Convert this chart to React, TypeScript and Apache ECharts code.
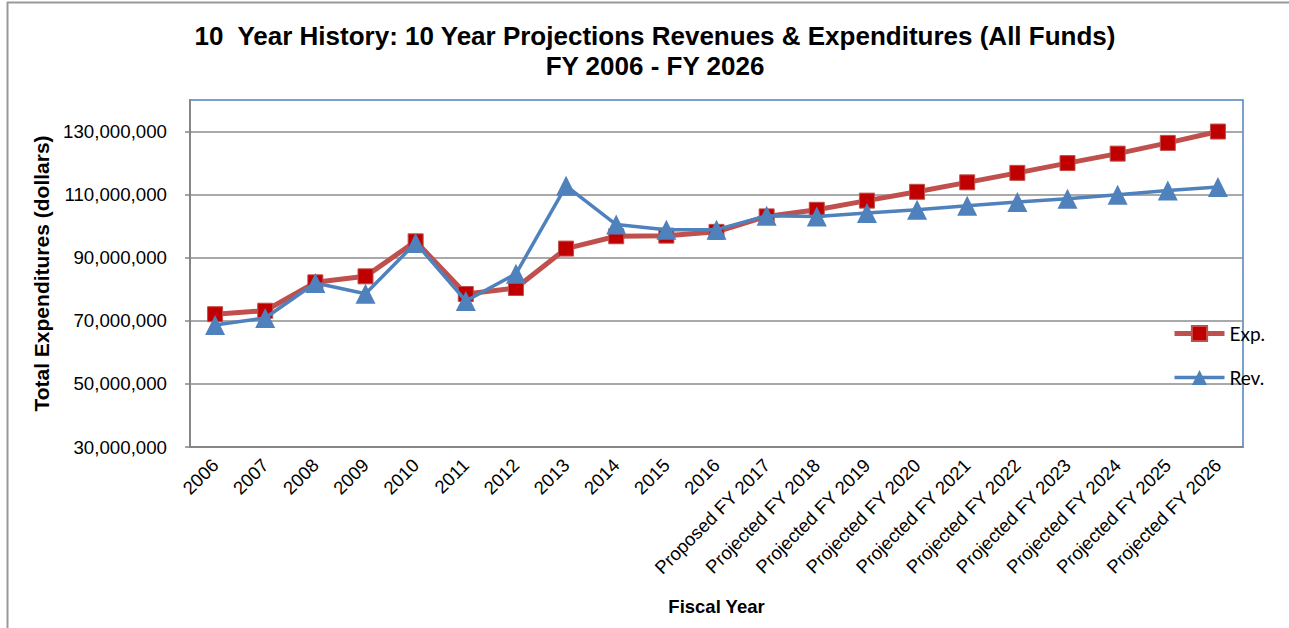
import React, { useEffect, useRef } from "react";
import * as echarts from "echarts";

const categories = [
  "2006", "2007", "2008", "2009", "2010", "2011", "2012", "2013", "2014", "2015", "2016",
  "Proposed FY 2017", "Projected FY 2018", "Projected FY 2019", "Projected FY 2020",
  "Projected FY 2021", "Projected FY 2022", "Projected FY 2023", "Projected FY 2024",
  "Projected FY 2025", "Projected FY 2026",
];

const expenditures = [
  72100000, 73200000, 82200000, 84100000, 95200000, 78500000, 80400000, 92900000,
  96800000, 97000000, 98200000, 103100000, 105200000, 108100000, 110900000,
  113900000, 116900000, 120000000, 123000000, 126400000, 130000000,
];

const revenues = [
  68700000, 70900000, 82000000, 78600000, 94700000, 76300000, 84900000, 112800000,
  100500000, 98900000, 98900000, 103300000, 103100000, 104200000, 105200000,
  106500000, 107700000, 108700000, 110000000, 111300000, 112400000,
];

const titleLines = [
  "10  Year History: 10 Year Projections Revenues & Expenditures (All Funds)",
  "FY 2006 - FY 2026",
];

const FONT = "'Liberation Sans', Arial, sans-serif";

export default function App() {
  const ref = useRef<HTMLDivElement>(null);

  useEffect(() => {
    if (!ref.current) return;
    const chart = echarts.init(ref.current, null, { renderer: "svg" });
    chart.setOption({
      animation: false,
      backgroundColor: "#ffffff",
      title: {
        text: titleLines.join("\n"),
        left: 650,
        textAlign: "center",
        top: 16,
        textStyle: {
          fontFamily: FONT,
          fontWeight: "bold",
          fontSize: 26,
          lineHeight: 30,
          color: "#000",
        },
      },
      legend: {
        orient: "vertical",
        left: 1167,
        top: 319,
        itemWidth: 50,
        itemHeight: 19,
        itemGap: 25,
        textStyle: { fontFamily: "Lato, 'Open Sans', sans-serif", fontSize: 19, color: "#000" },
        data: [
          { name: "Exp.", lineStyle: { width: 5, color: "#C0504D" } },
          { name: "Rev.", lineStyle: { width: 3.5, color: "#4F81BD" } },
        ],
      },
      graphic: [
        { type: "line", shape: { x1: 7, y1: 2.5, x2: 1289, y2: 2.5 }, style: { stroke: "#999", lineWidth: 2 } },
        { type: "line", shape: { x1: 7.5, y1: 2, x2: 7.5, y2: 628 }, style: { stroke: "#999", lineWidth: 2 } },
      ],
      grid: {
        left: 190,
        right: 46,
        top: 100,
        bottom: 181,
        show: true,
        borderColor: "#4F81BD",
        borderWidth: 1.5,
        backgroundColor: "transparent",
      },
      xAxis: {
        type: "category",
        data: categories,
        boundaryGap: true,
        name: "Fiscal Year",
        nameLocation: "middle",
        nameGap: 150,
        nameTextStyle: { fontFamily: FONT, fontWeight: "bold", fontSize: 18.5, color: "#000" },
        axisLine: { lineStyle: { color: "#868686", width: 2 } },
        axisTick: { alignWithLabel: true, length: 5, lineStyle: { color: "#868686", width: 1.5 } },
        axisLabel: {
          rotate: 45,
          interval: 0,
          margin: 15,
          fontFamily: FONT,
          fontSize: 18.5,
          color: "#000",
        },
      },
      yAxis: {
        type: "value",
        min: 30000000,
        max: 140000000,
        interval: 20000000,
        name: "Total Expenditures (dollars)",
        nameLocation: "middle",
        nameRotate: 90,
        nameGap: 131,
        nameTextStyle: { fontFamily: FONT, fontWeight: "bold", fontSize: 21, color: "#000" },
        axisLine: { show: true, lineStyle: { color: "#868686", width: 2 } },
        axisTick: { show: true, length: 5, lineStyle: { color: "#868686", width: 1.5 } },
        axisLabel: {
          showMaxLabel: false,
          margin: 23,
          fontFamily: FONT,
          fontSize: 18.7,
          color: "#000",
          formatter: (v: number) => (v > 130000000 ? "" : v.toLocaleString("en-US")),
        },
        splitLine: {
          show: true,
          showMaxLine: false,
          lineStyle: { color: "#8c8c8c", width: 1.5 },
        },
      },
      series: [
        {
          name: "Exp.",
          type: "line",
          data: expenditures,
          symbol: "rect",
          symbolSize: 15,
          z: 2,
          lineStyle: { color: "#C0504D", width: 5 },
          itemStyle: { color: "#C00000", borderColor: "#C0504D", borderWidth: 1 },
        },
        {
          name: "Rev.",
          type: "line",
          data: revenues,
          symbol: "triangle",
          symbolSize: 20,
          z: 3,
          lineStyle: { color: "#4F81BD", width: 3.5 },
          itemStyle: { color: "#4F81BD" },
        },
      ],
    });
    return () => chart.dispose();
  }, []);

  return (
    <div
      ref={ref}
      style={{ position: "absolute", left: 0, top: 0, width: 1289, height: 628 }}
    />
  );
}
